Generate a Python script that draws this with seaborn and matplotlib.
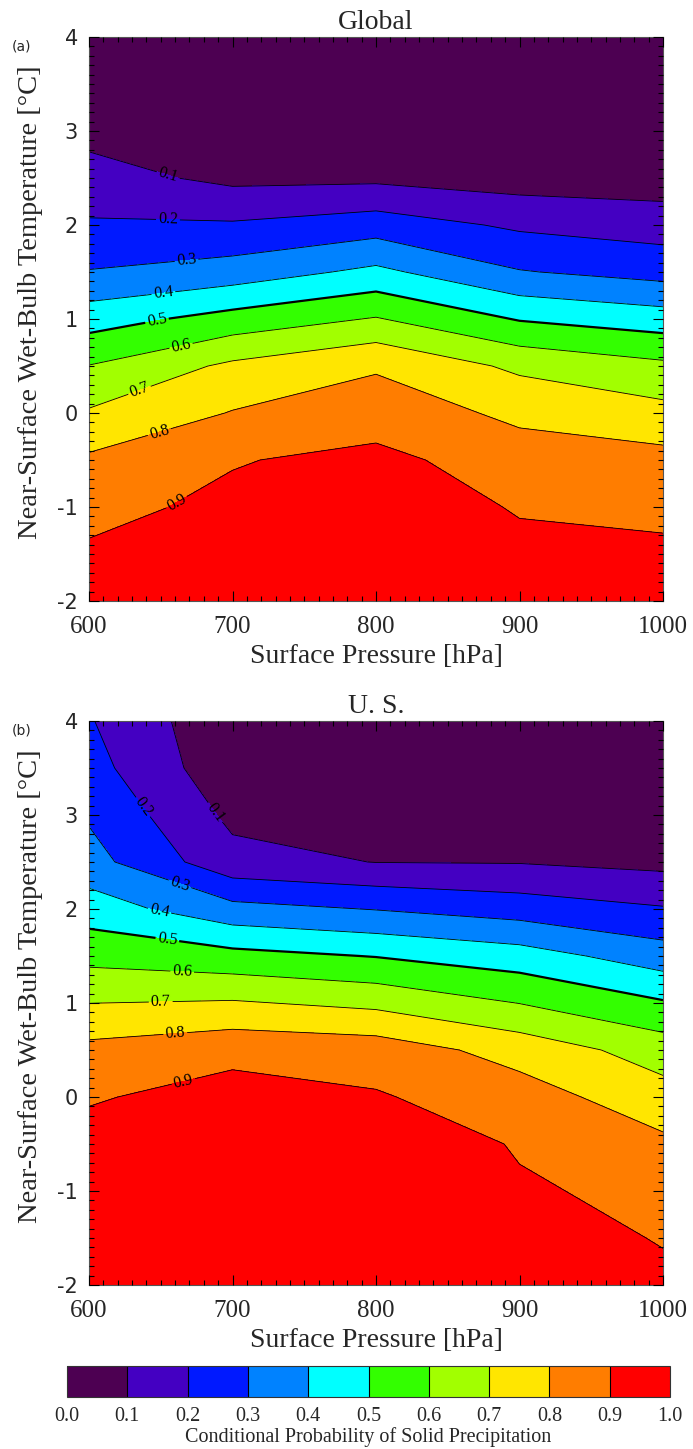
import numpy as np
import matplotlib
matplotlib.use("Agg")
import matplotlib.pyplot as plt
from matplotlib.colors import ListedColormap, BoundaryNorm
from matplotlib.ticker import MultipleLocator
import seaborn as sns

# ---------------------------------------------------------------
# DATA  (probability of solid precip, rows = wet-bulb temp, cols = pressure)
# ---------------------------------------------------------------
PRESSURE = [600, 700, 800, 900, 1000]
TWB = [-2.0, -1.5, -1.0, -0.5, 0.0, 0.5, 1.0, 1.5, 2.0, 2.5, 3.0, 3.5, 4.0]

PROB_GLOBAL = [
    [0.960, 0.970, 0.980, 0.940, 0.950],
    [0.920, 0.950, 0.970, 0.925, 0.920],
    [0.860, 0.932, 0.960, 0.892, 0.875],
    [0.817, 0.891, 0.938, 0.828, 0.832],
    [0.711, 0.805, 0.833, 0.787, 0.731],
    [0.603, 0.720, 0.793, 0.678, 0.621],
    [0.456, 0.538, 0.607, 0.493, 0.448],
    [0.305, 0.346, 0.424, 0.306, 0.263],
    [0.211, 0.211, 0.252, 0.183, 0.154],
    [0.139, 0.076, 0.079, 0.053, 0.046],
    [0.069, 0.050, 0.050, 0.030, 0.020],
    [0.040, 0.030, 0.030, 0.020, 0.010],
    [0.020, 0.020, 0.020, 0.010, 0.010],
]

PROB_US = [
    [0.980, 0.990, 0.980, 0.950, 0.914],
    [0.970, 0.980, 0.970, 0.930, 0.896],
    [0.960, 0.970, 0.960, 0.908, 0.883],
    [0.940, 0.960, 0.950, 0.894, 0.821],
    [0.890, 0.940, 0.909, 0.846, 0.739],
    [0.828, 0.871, 0.854, 0.761, 0.654],
    [0.699, 0.710, 0.675, 0.598, 0.510],
    [0.569, 0.532, 0.496, 0.446, 0.347],
    [0.450, 0.332, 0.296, 0.254, 0.208],
    [0.337, 0.132, 0.098, 0.095, 0.073],
    [0.288, 0.077, 0.050, 0.040, 0.040],
    [0.237, 0.030, 0.030, 0.030, 0.030],
    [0.2075, 0.020, 0.020, 0.020, 0.020],
]

LEVELS = [0.0, 0.1, 0.2, 0.3, 0.4, 0.5, 0.6, 0.7, 0.8, 0.9, 1.0]
LEVEL_COLORS = ["#4d0052", "#4400c2", "#0019ff", "#0082ff", "#00ffff",
                "#33ff00", "#a2ff00", "#ffe600", "#ff7d00", "#ff0000"]

PANELS = [
    ("Global", "(a)", PROB_GLOBAL),
    ("U. S.", "(b)", PROB_US),
]

# where the inline contour labels sit (data coords)
LABEL_POS = {
    "Global": [(655, 2.52), (655, 2.05), (668, 1.62), (652, 1.25), (648, 0.93),
               (665, 0.65), (635, 0.25), (648, -0.15), (660, -0.92)],
    "U. S.": [(690, 3.05), (648, 3.20), (665, 2.34), (650, 2.05), (655, 1.72),
              (665, 1.36), (650, 0.99), (660, 0.70), (665, 0.22)],
}

# ---------------------------------------------------------------
# STYLE
# ---------------------------------------------------------------
sns.set_theme(style="ticks")
plt.rcParams["font.family"] = ["Liberation Serif", "DejaVu Serif"]
plt.rcParams["axes.edgecolor"] = "#555555"
plt.rcParams["axes.linewidth"] = 0.8

cmap = ListedColormap(sns.color_palette(LEVEL_COLORS))
norm = BoundaryNorm(LEVELS, cmap.N)

W, H = 693, 1449
fig = plt.figure(figsize=(W / 100, H / 100), dpi=100)

ax_rects = [
    [89 / W, 1 - 601 / H, 574 / W, 564 / H],
    [89 / W, 1 - 1285 / H, 574 / W, 564 / H],
]
tag_y = [46, 730]

x = np.array(PRESSURE)
y = np.array(TWB)

cf = None
for (title, tag, prob), rect, ty in zip(PANELS, ax_rects, tag_y):
    ax = fig.add_axes(rect)
    ax.set_axisbelow(False)
    z = np.array(prob)

    cf = ax.contourf(x, y, z, levels=LEVELS, cmap=cmap, norm=norm)
    widths = [1.6 if abs(l - 0.5) < 1e-6 else 0.6 for l in LEVELS[1:-1]]
    cs = ax.contour(x, y, z, levels=LEVELS[1:-1], colors="black", linewidths=widths)
    ax.clabel(cs, manual=LABEL_POS[title], inline=True, inline_spacing=2,
              fmt="%.1f", fontsize=11.5)

    ax.set_xlim(600, 1000)
    ax.set_ylim(-2, 4)

    ax.set_xticks([600, 700, 800, 900, 1000])
    ax.set_xticklabels(["600", "700", "800", "900", "1000"], fontsize=18)
    ax.set_yticks([-2, -1, 0, 1, 2, 3, 4])
    ax.set_yticklabels(["-2", "-1", "0", "1", "2", "3", "4"],
                       fontsize=15, fontfamily="DejaVu Sans")
    ax.xaxis.set_minor_locator(MultipleLocator(10))
    ax.yaxis.set_minor_locator(MultipleLocator(0.1))
    ax.tick_params(which="both", direction="in", top=True, right=True,
                   color="black", width=0.8)
    ax.tick_params(which="major", length=7)
    ax.tick_params(which="minor", length=3.5)
    ax.tick_params(axis="x", which="major", pad=11)
    ax.tick_params(axis="y", which="major", pad=8)

    ax.set_xlabel("Surface Pressure [hPa]", fontsize=20)
    ax.xaxis.set_label_coords(0.5, -0.077)
    ax.set_ylabel("Near-Surface Wet-Bulb Temperature [°C]", fontsize=20.5)
    ax.yaxis.set_label_coords(-0.080, 0.53)
    ax.set_title(title, fontsize=20, pad=6)

    fig.text(12 / W, 1 - ty / H, tag, fontsize=10, family="DejaVu Sans",
             va="center", ha="left")

# ---------------------------------------------------------------
# COLORBAR
# ---------------------------------------------------------------
cax = fig.add_axes([67 / W, 1 - 1397 / H, 603 / W, 31 / H])
cb = fig.colorbar(cf, cax=cax, orientation="horizontal", ticks=LEVELS,
                  drawedges=True)
cb.dividers.set_color("black")
cb.dividers.set_linewidth(0.8)
cb.outline.set_edgecolor("#333333")
cb.outline.set_linewidth(0.8)
cb.ax.set_xticklabels([f"{v:.1f}" for v in LEVELS], fontsize=14.5)
cb.ax.tick_params(length=0, pad=7)
cb.set_label("Conditional Probability of Solid Precipitation", fontsize=14.5,
             labelpad=1)

fig.savefig("out.png", dpi=100)
